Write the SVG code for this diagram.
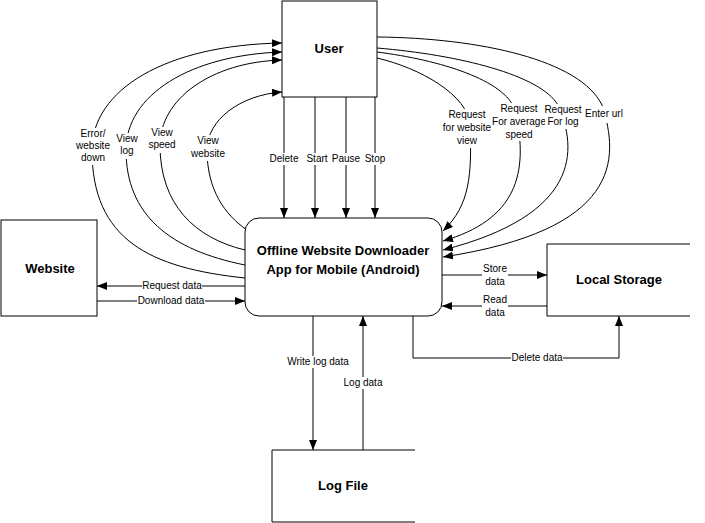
<svg xmlns="http://www.w3.org/2000/svg" width="705" height="523" viewBox="0 0 705 523">
<style>
.box{fill:#fff;stroke:#000;stroke-width:1}
.open{fill:none;stroke:#000;stroke-width:1}
.title{font-family:"Liberation Sans",Arial,sans-serif;font-size:13px;font-weight:bold;fill:#000;text-anchor:middle}
.ln{fill:none;stroke:#000;stroke-width:1;marker-end:url(#ah)}
.bg{fill:#fff;stroke:none}
.lbl{font-family:"Liberation Sans",Arial,sans-serif;font-size:10px;fill:#000;text-anchor:middle}
</style>
<defs>
<marker id="ah" markerUnits="userSpaceOnUse" markerWidth="10" markerHeight="8" refX="10" refY="4" orient="auto">
<path d="M0,0 L10,4 L0,8 z" fill="#000"/>
</marker>
</defs>
<rect width="705" height="523" fill="#fff"/>

<g id="connectors">
<!-- User to App -->
<path class="ln" d="M284,97 V218"/>
<path class="ln" d="M315,97 V218"/>
<path class="ln" d="M346,97 V218"/>
<path class="ln" d="M375,97 V218"/>
<!-- App to User (left curves) -->
<path class="ln" d="M245,278 C150,268 92,240 92,150 C92,90 165,45 282,43"/>
<path class="ln" d="M245,265 C170,250 126,215 126,150 C126,95 190,55 282,52"/>
<path class="ln" d="M245,250 C195,238 160,205 160,145 C160,100 210,62 282,60"/>
<path class="ln" d="M247,230 C225,215 207,190 207,150 C207,120 240,95 282,92"/>
<!-- User to App (right curves) -->
<path class="ln" d="M377,58 C420,68 468,95 470,125 C472,175 470,205 443,231"/>
<path class="ln" d="M377,52 C440,60 505,80 515,110 C530,175 515,220 443,241"/>
<path class="ln" d="M377,48 C460,55 540,75 558,105 C578,150 580,215 443,250"/>
<path class="ln" d="M377,37 C480,38 580,60 602,105 C620,160 620,230 443,257"/>
<!-- Website -->
<path class="ln" d="M245,286 H97"/>
<path class="ln" d="M97,301 H245"/>
<!-- Local storage -->
<path class="ln" d="M442,275 H547"/>
<path class="ln" d="M547,306 H442"/>
<path class="ln" d="M413,316 V358 H619 V316"/>
<!-- Log file -->
<path class="ln" d="M313,316 V450"/>
<path class="ln" d="M363,450 V316"/>

<!-- labels -->
<rect class="bg" x="269" y="153" width="31" height="12"/>
<text class="lbl" x="284" y="162">Delete</text>
<rect class="bg" x="306" y="153" width="23" height="12"/>
<text class="lbl" x="317" y="162">Start</text>
<rect class="bg" x="332" y="153" width="29" height="12"/>
<text class="lbl" x="346" y="162">Pause</text>
<rect class="bg" x="364" y="153" width="23" height="12"/>
<text class="lbl" x="375" y="162">Stop</text>

<rect class="bg" x="75" y="128" width="36" height="37"/>
<text class="lbl" x="93" y="137">Error/</text>
<text class="lbl" x="93" y="149">website</text>
<text class="lbl" x="93" y="161">down</text>
<rect class="bg" x="115" y="133" width="24" height="26"/>
<text class="lbl" x="127" y="142">View</text>
<text class="lbl" x="127" y="154">log</text>
<rect class="bg" x="147" y="127" width="30" height="26"/>
<text class="lbl" x="162" y="136">View</text>
<text class="lbl" x="162" y="148">speed</text>
<rect class="bg" x="190" y="135" width="36" height="26"/>
<text class="lbl" x="208" y="144">View</text>
<text class="lbl" x="208" y="157">website</text>

<rect class="bg" x="442" y="109" width="50" height="39"/>
<text class="lbl" x="467" y="118">Request</text>
<text class="lbl" x="467" y="131">for website</text>
<text class="lbl" x="467" y="144">view</text>
<rect class="bg" x="491" y="103" width="56" height="38"/>
<text class="lbl" x="519" y="112">Request</text>
<text class="lbl" x="519" y="125">For average</text>
<text class="lbl" x="519" y="138">speed</text>
<rect class="bg" x="545" y="104" width="37" height="25"/>
<text class="lbl" x="563" y="113">Request</text>
<text class="lbl" x="563" y="125">For log</text>
<rect class="bg" x="585" y="106" width="39" height="17"/>
<text class="lbl" x="604" y="117">Enter url</text>

<rect class="bg" x="142" y="280" width="60" height="12"/>
<text class="lbl" x="172" y="289">Request data</text>
<rect class="bg" x="137" y="295" width="68" height="12"/>
<text class="lbl" x="171" y="304">Download data</text>

<rect class="bg" x="482" y="263" width="26" height="25"/>
<text class="lbl" x="495" y="272">Store</text>
<text class="lbl" x="495" y="285">data</text>
<rect class="bg" x="482" y="294" width="26" height="25"/>
<text class="lbl" x="495" y="303">Read</text>
<text class="lbl" x="495" y="316">data</text>
<rect class="bg" x="511" y="352" width="52" height="12"/>
<text class="lbl" x="537" y="361">Delete data</text>

<rect class="bg" x="287" y="356" width="62" height="12"/>
<text class="lbl" x="318" y="365">Write log data</text>
<rect class="bg" x="343" y="377" width="40" height="12"/>
<text class="lbl" x="363" y="386">Log data</text>
</g>

<g id="user">
<rect class="box" x="282" y="1" width="95" height="96"/>
<text class="title" x="329" y="53">User</text>
</g>
<g id="app">
<rect class="box" x="245" y="218" width="197" height="98" rx="14" ry="14"/>
<text class="title" x="343" y="255">Offline Website Downloader</text>
<text class="title" x="343" y="274">App for Mobile (Android)</text>
</g>
<g id="website">
<rect class="box" x="1" y="220" width="96" height="96"/>
<text class="title" x="50" y="273">Website</text>
</g>
<g id="local-storage">
<path class="open" d="M690,244 H547 V316 H690"/>
<text class="title" x="619" y="284">Local Storage</text>
</g>
<g id="log-file">
<path class="open" d="M415,450 H272 V522 H415"/>
<text class="title" x="343" y="490">Log File</text>
</g>
</svg>
